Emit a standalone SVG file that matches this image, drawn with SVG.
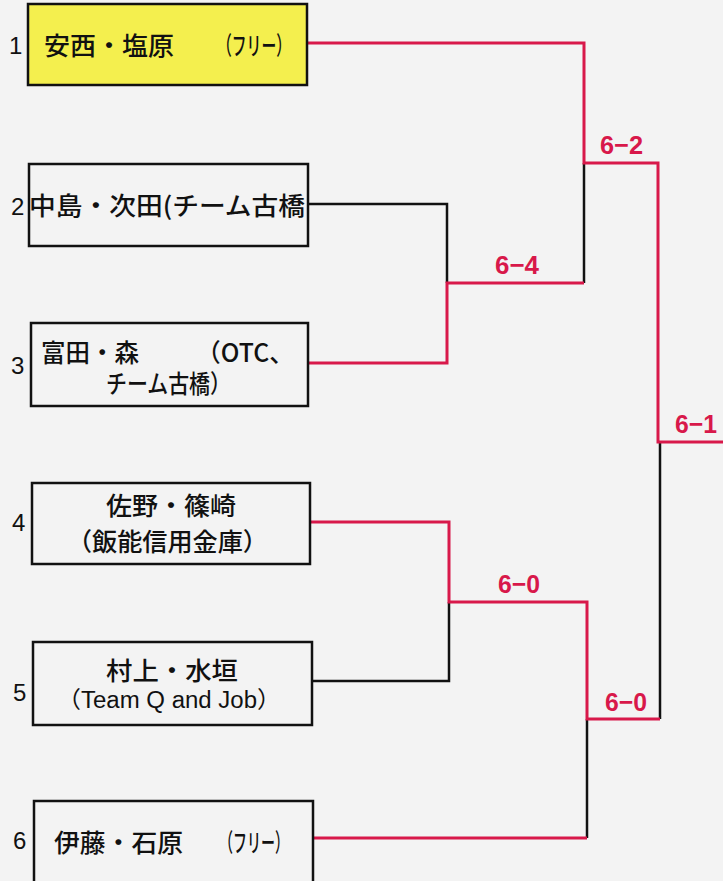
<svg xmlns="http://www.w3.org/2000/svg" width="723" height="881" viewBox="0 0 723 881">
<style>
.box{fill:none;stroke:#111;stroke-width:2.5}
.t{font-family:"Noto Sans CJK JP","Liberation Sans",sans-serif;font-size:25px;font-weight:500;fill:#111}
.n{font-family:"Liberation Sans",sans-serif;font-size:24px;fill:#111}
.r{fill:none;stroke:#d8184a;stroke-width:3}
.k{fill:none;stroke:#111;stroke-width:2.5}
.s{font-family:"Liberation Sans",sans-serif;font-size:26px;font-weight:bold;fill:#d8184a}
</style>
<rect width="723" height="881" fill="#f3f3f3"/>
<g id="connectors">
<path class="k" d="M308 204H447V283"/>
<path class="k" d="M312 681H449V602"/>
<path class="k" d="M584 163V283"/>
<path class="k" d="M587 719V838"/>
<path class="k" d="M660 442V719"/>
<path class="r" d="M307 43H584V163H658V442H723"/>
<path class="r" d="M308 363H447V283H584"/>
<path class="r" d="M310 522H449V602H587V719H660"/>
<path class="r" d="M313 838H587"/>
<text class="s" x="600" y="154" textLength="43" lengthAdjust="spacingAndGlyphs">6−2</text>
<text class="s" x="495" y="274" textLength="44" lengthAdjust="spacingAndGlyphs">6−4</text>
<text class="s" x="675" y="433" textLength="42" lengthAdjust="spacingAndGlyphs">6−1</text>
<text class="s" x="498" y="593" textLength="42" lengthAdjust="spacingAndGlyphs">6−0</text>
<text class="s" x="605" y="711" textLength="42" lengthAdjust="spacingAndGlyphs">6−0</text>
</g>
<g id="node1">
<rect x="28" y="4" width="279" height="81" fill="#f4ef4e" stroke="#111" stroke-width="2.5"/>
<text class="n" x="9" y="54">1</text>
<text class="t" x="44" y="55" textLength="130" lengthAdjust="spacingAndGlyphs">安西・塩原</text>
<text class="t" x="217" y="55" font-size="21" textLength="74" lengthAdjust="spacingAndGlyphs">（フリー）</text>
</g>
<g id="node2">
<rect class="box" x="29" y="164" width="279" height="82"/>
<text class="n" x="11" y="215">2</text>
<text class="t" x="29" y="215" textLength="276" lengthAdjust="spacingAndGlyphs">中島・次田(チーム古橋</text>
</g>
<g id="node3">
<rect class="box" x="31" y="323" width="277" height="83"/>
<text class="n" x="11" y="374">3</text>
<text class="t" x="41" y="362" textLength="98" lengthAdjust="spacingAndGlyphs">富田・森</text>
<text class="t" x="196" y="362" textLength="98" lengthAdjust="spacingAndGlyphs">（OTC、</text>
<text class="t" x="106" y="393" textLength="125" lengthAdjust="spacingAndGlyphs">チーム古橋）</text>
</g>
<g id="node4">
<rect class="box" x="32" y="483" width="278" height="81"/>
<text class="n" x="12" y="531">4</text>
<text class="t" x="106" y="515" textLength="130" lengthAdjust="spacingAndGlyphs">佐野・篠崎</text>
<text class="t" x="67" y="551" font-size="24" textLength="201" lengthAdjust="spacingAndGlyphs">（飯能信用金庫）</text>
</g>
<g id="node5">
<rect class="box" x="33" y="642" width="279" height="83"/>
<text class="n" x="13" y="701">5</text>
<text class="t" x="106" y="680" textLength="132" lengthAdjust="spacingAndGlyphs">村上・水垣</text>
<text x="57" y="708" font-family="'Liberation Sans','Noto Sans CJK JP',sans-serif" font-size="23" fill="#111" textLength="224" lengthAdjust="spacingAndGlyphs">（Team Q and Job）</text>
</g>
<g id="node6">
<rect class="box" x="34" y="801" width="279" height="84"/>
<text class="n" x="13" y="849">6</text>
<text class="t" x="54" y="852" textLength="129" lengthAdjust="spacingAndGlyphs">伊藤・石原</text>
<text class="t" x="219" y="852" font-size="21" textLength="70" lengthAdjust="spacingAndGlyphs">（フリー）</text>
</g>
</svg>
